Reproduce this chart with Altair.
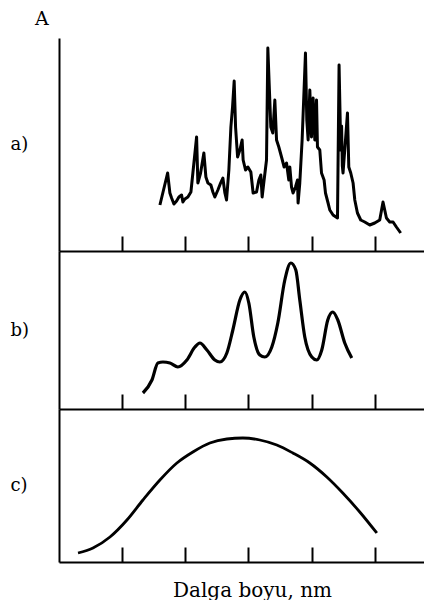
import altair as alt
import pandas as pd

# Panel a) - noisy spectrum (arbitrary wavelength units, ticks at 1..5)
a_x = [1.598, 1.720, 1.756, 1.783, 1.820, 1.862, 1.899, 1.941, 1.962, 1.994,
       2.041, 2.089, 2.120, 2.179, 2.199, 2.242, 2.294, 2.326, 2.358, 2.405,
       2.437, 2.468, 2.516, 2.559, 2.595, 2.627, 2.653, 2.690, 2.722, 2.748,
       2.774, 2.796, 2.828, 2.864, 2.900, 2.916, 2.954, 2.991, 3.038, 3.074,
       3.128, 3.165, 3.196, 3.217, 3.248, 3.286, 3.307, 3.354, 3.386, 3.418,
       3.445, 3.481, 3.524, 3.565, 3.603, 3.639, 3.655, 3.682, 3.707, 3.745,
       3.777, 3.786, 3.813, 3.850, 3.903, 3.924, 3.945, 3.972, 3.998, 4.024,
       4.051, 4.078, 4.093, 4.130, 4.157, 4.198, 4.220, 4.261, 4.288, 4.340,
       4.410, 4.435, 4.462, 4.475, 4.487, 4.498, 4.525, 4.568, 4.589, 4.620,
       4.657, 4.684, 4.726, 4.778, 4.842, 4.921, 5.000, 5.079, 5.131, 5.185,
       5.237, 5.290, 5.343, 5.411]
a_y = [46, 78, 58, 53, 47, 50, 54, 56, 49, 52,
       54, 59, 78, 114, 68, 78, 98, 74, 68, 66,
       59, 54, 61, 68, 73, 58, 51, 81, 124, 144,
       170, 124, 94, 101, 111, 91, 81, 84, 79, 58,
       59, 71, 76, 54, 71, 91, 203, 124, 118, 151,
       111, 104, 94, 84, 88, 71, 84, 64, 58, 64,
       71, 48, 68, 111, 198, 131, 111, 161, 114, 153,
       111, 151, 104, 101, 78, 71, 58, 48, 41, 36,
       33, 186, 101, 125, 85, 78, 101, 138, 84, 78,
       68, 51, 38, 31, 29, 26, 28, 31, 49, 33,
       29, 29, 24, 18]

# Panel b) - smoothed spectrum
b_x = [1.329, 1.472, 1.566, 1.646, 1.756, 1.883, 2.025, 2.152, 2.231, 2.342,
       2.468, 2.547, 2.658, 2.753, 2.864, 2.943, 3.006, 3.085, 3.180, 3.259,
       3.370, 3.465, 3.576, 3.671, 3.750, 3.813, 3.892, 4.003, 4.082, 4.161,
       4.256, 4.335, 4.415, 4.525, 4.636]
b_y = [16, 29, 46, 47, 46, 42, 49, 62, 66, 59,
       49, 47, 56, 79, 109, 117, 106, 72, 54, 52,
       62, 86, 129, 146, 139, 109, 72, 52, 49, 59,
       89, 97, 89, 66, 51]

# Panel c) - broad band
c_x = [0.301, 0.538, 0.807, 1.076, 1.329, 1.598, 1.867, 2.120, 2.389, 2.658,
       2.911, 3.180, 3.449, 3.703, 3.972, 4.241, 4.494, 4.763, 5.032]
c_y = [9, 14, 25, 42, 62, 82, 99, 110, 119, 123,
       124, 122, 117, 109, 99, 85, 69, 50, 29]

tick_values = [1, 2, 3, 4, 5]
panel_labels = ["a)", "b)", "c)"]
top_label = "A"
x_title = "Dalga boyu, nm"

X_DOMAIN = [0, 5.78]
W = 365
FONT = "DejaVu Serif"


def panel(xs, ys, height, ymax, label, interp, stroke, bottom_title=None):
    df = pd.DataFrame({"x": xs, "y": ys})
    xscale = alt.Scale(domain=X_DOMAIN, nice=False, zero=False)
    xaxis_kwargs = dict(ticks=False, labels=False, grid=False, domain=True,
                        domainColor="black", domainWidth=2, orient="bottom")
    if bottom_title:
        xaxis = alt.Axis(title=bottom_title, titleFont=FONT, titleFontSize=20,
                         titleFontWeight="normal", titleColor="black",
                         titleX=193, titleY=34, titleAlign="center",
                         titleBaseline="alphabetic", **xaxis_kwargs)
    else:
        xaxis = alt.Axis(title=None, **xaxis_kwargs)
    line = alt.Chart(df).mark_line(color="black", strokeWidth=stroke,
                                   interpolate=interp, strokeJoin="round").encode(
        x=alt.X("x:Q", scale=xscale, axis=xaxis),
        y=alt.Y("y:Q", scale=alt.Scale(domain=[0, ymax], nice=False, zero=True),
                axis=alt.Axis(ticks=False, labels=False, grid=False,
                              domainColor="black", domainWidth=2,
                              title=label, titleAngle=0, titleX=-49,
                              titleY=height / 2, titleAlign="left",
                              titleBaseline="middle", titleFont=FONT,
                              titleFontSize=18, titleFontWeight="normal",
                              titleColor="black")),
    )
    tick_layer = alt.Chart(pd.DataFrame({"t": tick_values})).mark_point(opacity=0).encode(
        x=alt.X("t:Q", scale=xscale,
                axis=alt.Axis(values=tick_values, ticks=True, tickSize=15,
                              tickWidth=2, tickColor="black", labels=False,
                              domain=False, grid=False, offset=-15,
                              title=None, orient="bottom")),
    )
    return alt.layer(line, tick_layer).resolve_axis(x="independent").properties(
        width=W, height=height)


pa = panel(a_x, a_y, 213, 213, panel_labels[0], "linear", 3).properties(
    title=alt.TitleParams(top_label, anchor="start", frame="group", dx=-24,
                          offset=9, font=FONT, fontSize=19,
                          fontWeight="normal", color="black"))
pb = panel(b_x, b_y, 158, 158, panel_labels[1], "monotone", 3.2)
pc = panel(c_x, c_y, 153, 153, panel_labels[2], "monotone", 2.8, bottom_title=x_title)

chart = alt.vconcat(pa, pb, pc, spacing=0, bounds="flush").properties(
    padding={"left": 2, "top": 2, "right": 0, "bottom": 0},
    background="white",
).configure_view(stroke=None)

chart.save("out.html", embed_options={"renderer": "svg", "actions": False})
